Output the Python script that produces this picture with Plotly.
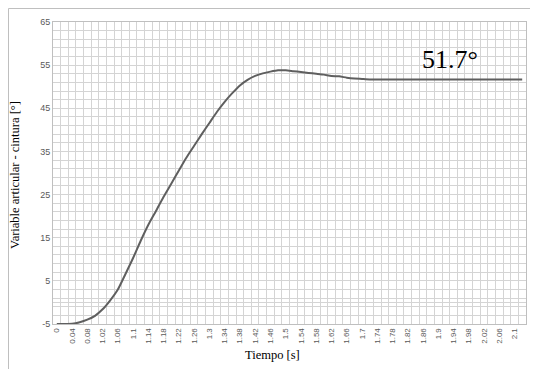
import plotly.graph_objects as go

# Category labels (time, s) as they appear on the axis
time_labels = ["0", "0.02", "0.04", "0.06", "0.08", "1"] + [
    "1.02", "1.04", "1.06", "1.08", "1.1", "1.12", "1.14", "1.16", "1.18", "1.2",
    "1.22", "1.24", "1.26", "1.28", "1.3", "1.32", "1.34", "1.36", "1.38", "1.4",
    "1.42", "1.44", "1.46", "1.48", "1.5", "1.52", "1.54", "1.56", "1.58", "1.6",
    "1.62", "1.64", "1.66", "1.68", "1.7", "1.72", "1.74", "1.76", "1.78", "1.8",
    "1.82", "1.84", "1.86", "1.88", "1.9", "1.92", "1.94", "1.96", "1.98", "2",
    "2.02", "2.04", "2.06", "2.08", "2.1", "2.12"]

# Joint variable (waist), degrees
angle_deg = [
    -5.0, -5.0, -4.95, -4.6, -4.0, -3.1, -1.6, 0.5, 3.0, 6.6,
    10.3, 14.3, 18.0, 21.2, 24.5, 27.5, 30.6, 33.6, 36.3, 39.0,
    41.6, 44.2, 46.5, 48.5, 50.3, 51.6, 52.5, 53.1, 53.5, 53.8,
    53.8, 53.6, 53.4, 53.2, 53.0, 52.8, 52.5, 52.4, 52.1, 51.9,
    51.8, 51.7, 51.7, 51.7, 51.7, 51.7, 51.7, 51.7, 51.7, 51.7,
    51.7, 51.7, 51.7, 51.7, 51.7, 51.7, 51.7, 51.7, 51.7, 51.7,
    51.7, 51.7]

y_ticks = [-5, 5, 15, 25, 35, 45, 55, 65]
y_tick_labels = ["-5", "5", "15", "25", "35", "45", "55", "65"]

idx = list(range(len(time_labels)))

# page body has an 8px margin; figure coordinates below are page coords minus 8
W, H = 530, 361
L, T, R, B = 45, 14, 518, 316   # plot area in figure pixels
PW, PH = R - L, B - T

def px(x):
    return (x - L) / PW

def py(y):
    return (B - y) / PH

fig = go.Figure()
fig.add_trace(go.Scatter(
    x=idx, y=angle_deg, mode="lines",
    line=dict(color="#5F5F5F", width=2, shape="spline", smoothing=0.6),
    showlegend=False, hoverinfo="skip"))

grid = "#D4D4D4"
fig.update_layout(
    width=W, height=H,
    margin=dict(l=L, r=W - R, t=T, b=H - B),
    paper_bgcolor="white", plot_bgcolor="white",
    xaxis=dict(
        automargin=False,
        range=[-0.5, len(idx) - 0.5],
        tickmode="array",
        tickvals=idx[::2], ticktext=time_labels[::2],
        tickangle=-90,
        tickfont=dict(family="Liberation Sans", size=8, color="#595959"),
        showgrid=False, zeroline=False,
        showline=True, linecolor="#BFBFBF", linewidth=1, mirror=True,
        ticks="", ticklen=0,
        minor=dict(tick0=0.5, dtick=1, showgrid=True, gridcolor=grid, gridwidth=1),
    ),
    yaxis=dict(
        automargin=False,
        range=[-5, 65],
        tickmode="array", tickvals=y_ticks, ticktext=y_tick_labels,
        tickfont=dict(family="Liberation Sans", size=9, color="#595959"),
        showgrid=True, gridcolor=grid, gridwidth=1,
        zeroline=True, zerolinecolor=grid, zerolinewidth=1,
        showline=True, linecolor="#BFBFBF", linewidth=1, mirror=True,
        ticks="", ticklen=0,
        minor=dict(tick0=-5, dtick=2, showgrid=True, gridcolor=grid, gridwidth=1),
    ),
    annotations=[
        dict(text="51.7°", xref="paper", yref="paper",
             x=px(442), y=py(52), xanchor="center", yanchor="middle",
             showarrow=False, font=dict(family="Liberation Serif", size=26, color="black")),
        dict(text="Tiempo [s]", xref="paper", yref="paper",
             x=px(264), y=py(347), xanchor="center", yanchor="middle",
             showarrow=False, font=dict(family="Liberation Serif", size=12.5, color="black")),
        dict(text="Variable articular - cintura [°]", xref="paper", yref="paper",
             x=px(7), y=py(167), xanchor="center", yanchor="middle",
             textangle=-90, showarrow=False,
             font=dict(family="Liberation Serif", size=12.5, color="black")),
    ],
    shapes=[
        dict(type="rect", xref="paper", yref="paper",
             x0=px(0.5), x1=px(560), y0=py(400), y1=py(0.5),
             line=dict(color="#BFBFBF", width=1), fillcolor="rgba(0,0,0,0)", layer="below"),
    ],
)

fig.write_html("out.html")
